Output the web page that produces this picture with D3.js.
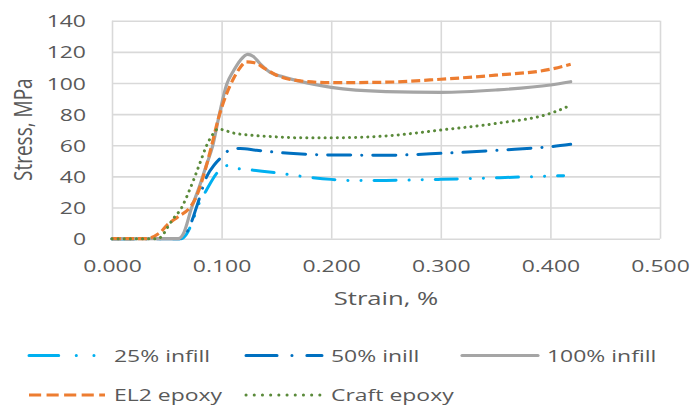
<!DOCTYPE html>
<html><head><meta charset="utf-8">
<script src="https://cdn.jsdelivr.net/npm/d3@7"></script>
<style>
html,body{margin:0;padding:0;background:#fff;}
svg text{font-family:"Open Sans",sans-serif;fill:#595959;}
</style></head>
<body><svg id="c" width="694" height="405"></svg>
<script>
// ---- data (strain %, stress MPa) ----
const seriesNames = ["25% infill", "50% inill", "100% infill", "EL2 epoxy", "Craft epoxy"];
const infill25 = [[0,0],[0.063,0],[0.068,3],[0.074,12],[0.079,22],[0.086,31],[0.0955,42],[0.101,46],[0.106,47],[0.111,45.5],[0.129,44],[0.153,42],[0.176,39.8],[0.2,38.1],[0.223,37.3],[0.25,37.4],[0.3,38.1],[0.354,39.2],[0.412,40.5]];
const infill50 = [[0,0],[0.061,0],[0.066,2],[0.071,8],[0.077,20],[0.0865,40],[0.094,48],[0.1,52.5],[0.105,56],[0.11,57.5],[0.117,58],[0.132,56.8],[0.162,54.8],[0.2,53.8],[0.25,53.6],[0.3,54.8],[0.357,57],[0.4,59.1],[0.4185,60.6]];
const infill100 = [[0,0],[0.0605,0],[0.065,3],[0.0727,20],[0.08,34],[0.086,47],[0.092,60],[0.098,80],[0.1046,99],[0.111,108],[0.117,114.5],[0.1238,118.4],[0.129,117],[0.135,112.5],[0.144,107],[0.156,104],[0.1715,101],[0.2,97.2],[0.25,94.5],[0.3,94],[0.35,95.5],[0.4,98.7],[0.4185,100.8]];
const el2Epoxy = [[0,0],[0.03,0],[0.044,4],[0.05,8.5],[0.06,14],[0.071,20],[0.077,27],[0.0833,40],[0.091,60],[0.097,77],[0.104,92],[0.111,103],[0.117,110],[0.1223,113.5],[0.13,113],[0.14,109],[0.15,105],[0.17,101.5],[0.2,100.2],[0.25,100.5],[0.3,102.4],[0.35,105],[0.4,108.8],[0.4185,112]];
const craftEpoxy = [[0,0],[0.041,0],[0.046,2],[0.05,6.5],[0.055,12],[0.0636,20],[0.07,30],[0.0757,40],[0.081,50],[0.0864,60],[0.091,66],[0.097,70.5],[0.1016,69.8],[0.11,68],[0.126,66.5],[0.147,65.5],[0.175,64.8],[0.2,64.8],[0.25,66],[0.3,69.8],[0.35,74],[0.4,80.5],[0.417,85.2]];
const xTicks = [0, 0.1, 0.2, 0.3, 0.4, 0.5];
const yTicks = [0, 20, 40, 60, 80, 100, 120, 140];

const allSeries = [infill25, infill50, infill100, el2Epoxy, craftEpoxy];
const styles = [
  {color:"#00B0F0", dash:[22,13,0.1,13,0.1,13], cap:"round", w:3},
  {color:"#0070C0", dash:[23,11,0.1,11], cap:"round", w:3},
  {color:"#A5A5A5", dash:null, cap:"round", w:3.2},
  {color:"#ED7D31", dash:[9,4], cap:"butt", w:3.2},
  {color:"#5A8A3A", dash:[0.1,6], cap:"round", w:3}
];

const SX = 1.35; // horizontal text stretch
const svg = d3.select("#c");
const x = d3.scaleLinear().domain([0,0.5]).range([112,660]);
const y = d3.scaleLinear().domain([0,140]).range([238.7,20.7]);

// grid + axes
const gx = svg.append("g").attr("transform",`translate(0,${y(0)})`)
  .call(d3.axisBottom(x).tickValues(xTicks).tickFormat(d3.format(".3f")).tickSize(-(y(0)-y(140))).tickPadding(0));
gx.select(".domain").remove();
gx.selectAll("line").attr("stroke","#D9D9D9").attr("stroke-width",1.6);
gx.selectAll("text").attr("y",21).attr("font-size",17).attr("fill","#595959").attr("transform",`scale(${SX},1)`);

const gy = svg.append("g").attr("transform",`translate(${x(0)},0)`)
  .call(d3.axisLeft(y).tickValues(yTicks).tickSize(-(x(0.5)-x(0))).tickPadding(0));
gy.select(".domain").remove();
gy.selectAll("line").attr("stroke","#D9D9D9").attr("stroke-width",1.6);
gy.selectAll("text").attr("x",-26/SX).attr("dy","0.36em").attr("font-size",17).attr("fill","#595959").attr("transform",`scale(${SX},1)`);

// series
const line = d3.line().x(d=>x(d[0])).y(d=>y(d[1])).curve(d3.curveMonotoneX);
allSeries.forEach((s,i)=>{
  const st = styles[i];
  svg.append("path").attr("d",line(s)).attr("fill","none")
    .attr("stroke",st.color).attr("stroke-width",st.w)
    .attr("stroke-linecap",st.cap).attr("stroke-linejoin","round")
    .attr("stroke-dasharray",st.dash ? st.dash.join(",") : null);
});

// axis titles
svg.append("text").attr("transform",`translate(${(x(0)+x(0.5))/2},305) scale(${SX},1)`)
  .attr("text-anchor","middle").attr("font-size",19).text("Strain, %");
svg.append("text").attr("transform",`translate(32,${(y(0)+y(140))/2}) scale(${SX},1) rotate(-90)`)
  .attr("text-anchor","middle").attr("font-size",19).text("Stress, MPa");

// legend
const legCols = [29, 246, 462];
const legRows = [355.5, 395];
seriesNames.forEach((name,i)=>{
  const cx = legCols[i%3], cy = legRows[Math.floor(i/3)];
  const st = styles[i];
  svg.append("line").attr("x1",cx).attr("x2",cx+76).attr("y1",cy).attr("y2",cy)
    .attr("stroke",st.color).attr("stroke-width",st.w)
    .attr("stroke-linecap",st.cap)
    .attr("stroke-dasharray",st.dash ? st.dash.map(v=>v<1?v:v*SX).join(",") : null);
  svg.append("text").attr("transform",`translate(${cx+85},${cy}) scale(${SX},1)`)
    .attr("dy","0.36em").attr("font-size",17).text(name);
});
</script></body></html>
